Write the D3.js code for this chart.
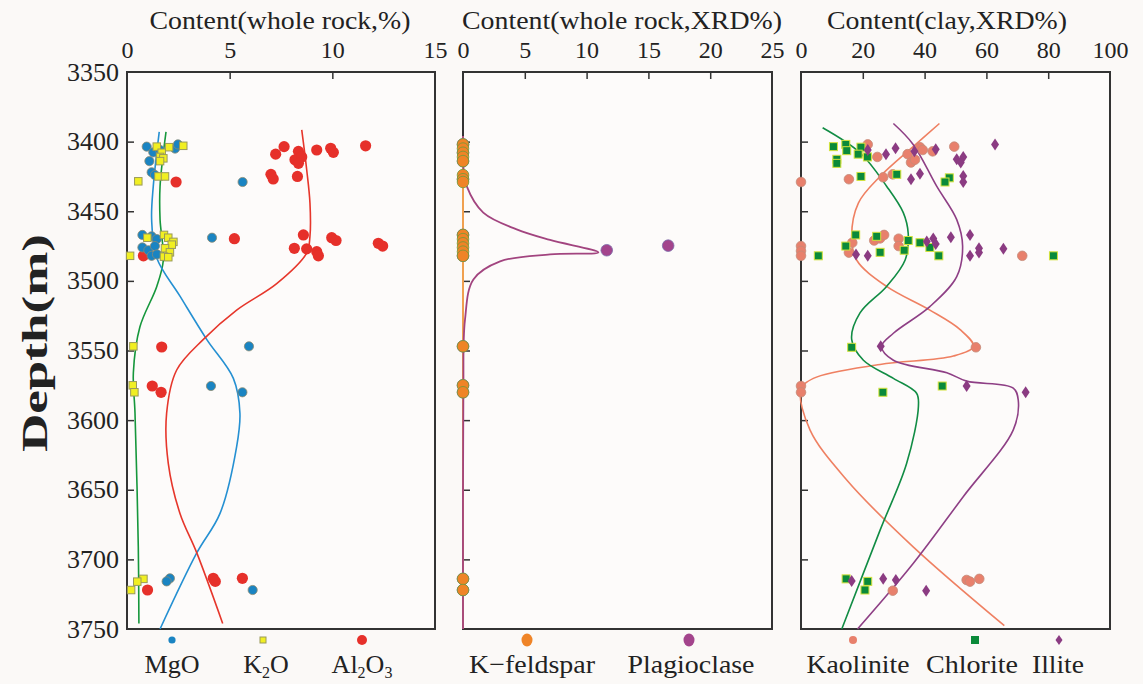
<!DOCTYPE html>
<html>
<meta charset="utf-8">
<title>Depth profiles</title>
<style>
  body { margin: 0; background: #fbf9f7; }
  svg { display: block; }
  text { font-family: "Liberation Serif", "Times New Roman", serif; fill: #222; }
  .box { fill: #fdfbfa; stroke: #333; stroke-width: 2; }
  .axis path { display: none; }
  .axis line { stroke: #333; stroke-width: 1.5; }
  .axis text { font-size: 24px; fill: #222; }
</style>
<body>
<script src="https://d3js.org/d3.v7.min.js"></script>
<script>
// ---- data: [depth (m), value] ----
var depthTicks = [3350, 3400, 3450, 3500, 3550, 3600, 3650, 3700, 3750];
var ticks1 = [0, 5, 10, 15];
var ticks2 = [0, 5, 10, 15, 20, 25];
var ticks3 = [0, 20, 40, 60, 80, 100];

var mgo = [[3403.6,0.96],[3407.7,1.28],[3406,1.61],[3405,2.34],[3402,2.48],[3414,1.09],[3422,1.2],[3424,1.36],
  [3429,5.63],[3467,0.75],[3468,1.2],[3470,1.45],[3469,4.14],[3476,0.75],[3478,1.04],[3475,1.36],[3482,1.2],
  [3481,1.46],[3547,5.94],[3575.5,4.09],[3580,5.62],[3713.6,2.09],[3715.8,1.93],[3722,6.12]];
var k2o = [[3403.6,1.45],[3404,2.05],[3403,2.74],[3408,1.69],[3411,1.61],[3412,1.77],[3414,1.61],[3425,1.53],
  [3425,1.85],[3428.5,0.55],[3467,1.8],[3469,2.01],[3469,0.99],[3472,2.26],[3474,2.18],[3476.6,1.85],
  [3479.5,2.09],[3482.6,1.8],[3483,2.01],[3482,0.15],[3547,0.31],[3575,0.28],[3580,0.36],[3714,0.8],
  [3716,0.5],[3722,0.2]];
var al2o3 = [[3403.6,7.65],[3409,7.24],[3407,8.35],[3413,8.18],[3411,8.51],[3415.6,8.35],[3406,9.24],
  [3404.8,9.92],[3407.7,10.05],[3403,11.62],[3423.5,7.01],[3426.8,7.12],[3425,8.3],[3429,2.39],[3469.7,5.23],
  [3467,8.59],[3469,9.97],[3471,10.18],[3476.6,8.15],[3477,8.75],[3479,9.24],[3482,9.32],[3473,12.24],
  [3475,12.45],[3482,0.8],[3547.5,1.69],[3575.5,1.23],[3580,1.66],[3713.6,4.2],[3715.8,4.3],[3713.6,5.62],
  [3722,1.0]];

var mgoCurve = [[3393,1.57],[3432,1.28],[3456,1.2],[3483.6,1.45],[3511,2.58],[3542,3.88],[3570,5.18],
  [3595,5.5],[3619,5.34],[3667,4.53],[3695.6,3.39],[3750,1.61]];
var k2oCurve = [[3393,1.9],[3432,1.61],[3456,1.61],[3485,1.77],[3504,1.45],[3533,0.63],[3566,0.31],
  [3595,0.39],[3691,0.55],[3746,0.58]];
var al2o3Curve = [[3391.6,8.51],[3420,8.75],[3444,8.91],[3468,8.91],[3480,8.75],[3502,7.29],[3521,5.34],
  [3542,3.72],[3564,2.42],[3595,1.93],[3631,2.01],[3667,2.58],[3695,3.39],[3746,4.66]];

var kfeldspar = [[3402,0],[3405,0],[3408,0],[3411,0],[3414,0],[3424,0],[3427,0],[3429,0],[3467,0],[3470,0],
  [3473,0],[3476,0],[3479,0],[3482,0],[3547,0],[3575,0],[3580,0],[3714,0],[3722,0]];
var plagioclase = [[3402,0],[3408,0],[3414,0],[3427,0],[3467,0],[3482,0],[3478,11.63],[3474.7,16.6],
  [3547,0],[3575,0],[3580,0],[3714,0],[3722,0]];
var kfeldsparCurve = [[3396,0],[3750,0]];
var plagioclaseCurve = [[3396,0],[3420,0.05],[3432,0.3],[3451,1.64],[3463,4.34],[3470.6,7.04],[3479.5,10.95],
  [3481,7.04],[3486,3.0],[3499,0.84],[3528,0.16],[3580,0.03],[3750,0]];

var kaolinite = [[3402,21.6],[3411,24.7],[3409,34.5],[3415,35.6],[3413,36.9],[3404,38.5],[3406,39.4],
  [3407,42.6],[3403.6,49.6],[3429,0],[3427,15.5],[3425.6,26.6],[3423.5,29.7],[3472.6,16.6],[3471,23.7],
  [3469.5,25.6],[3467,26.9],[3469.7,31.6],[3475,31.6],[3479.7,15.5],[3475,0],[3478.5,0],[3482,0],
  [3482,71.6],[3547.7,56.6],[3575.5,0],[3580,0],[3714.8,53.6],[3716,54.7],[3714,57.7],[3722.5,29.7]];
var chlorite = [[3403.6,10.5],[3402,14.5],[3406.5,14.8],[3404,19.4],[3409,18.5],[3411,21.5],[3412.7,11.6],
  [3415.6,11.6],[3425,19.4],[3423.5,31.0],[3426,48],[3429,46.6],[3467,17.7],[3475,14.5],[3468,24.5],
  [3471,34.7],[3472.6,38.5],[3476,41.7],[3478,33.4],[3479.5,25.6],[3482,44.6],[3482,5.6],[3482,81.7],
  [3547.7,16.4],[3575.5,45.7],[3580,26.5],[3714,14.6],[3715.8,21.6],[3722,20.7]];
var illite = [[3404.8,30.6],[3409,27.5],[3406,21.6],[3407,36.7],[3405.5,43.6],[3402,62.8],[3412.7,50.4],
  [3411,52.5],[3415,51.7],[3427,35.6],[3423,38.5],[3424.7,52.5],[3429,52.5],[3468.7,48.5],[3467,54.7],
  [3469.5,42.8],[3471.8,40.7],[3473.5,43.6],[3476.6,57.6],[3479.7,57.6],[3477,65.5],[3482,54.7],[3482,21.6],
  [3481,17.8],[3547,25.8],[3575.5,53.6],[3580,72.7],[3715.5,16.4],[3714,26.6],[3714.8,30.7],[3722.5,40.5]];

var kaoliniteCurve = [[3387,44.8],[3403.6,36.3],[3425,25.6],[3444,18.6],[3468,16.4],[3485,18],[3504,27.7],
  [3521,41.7],[3535,51.5],[3547,55.8],[3554,49.3],[3560,25.6],[3570,4],[3578,0],[3607,2.9],[3643,14.8],
  [3691,36.3],[3747.6,65.8]];
var chloriteCurve = [[3390,7],[3408,19.1],[3432,27.7],[3451,33.1],[3466,34.7],[3485,33.7],[3504,27.7],
  [3523,19.1],[3542,16.4],[3557,20.2],[3570,29.9],[3580.7,37.4],[3590,38],[3631,34.2],[3679,25.6],
  [3750,13.2]];
var illiteCurve = [[3387,29.9],[3402,36.3],[3432,43.9],[3456,50.4],[3475,52.3],[3497,50.4],[3518.5,41.7],
  [3537.6,29.9],[3547,26.1],[3557,29.9],[3566,47.2],[3572,53.6],[3577,68.7],[3585.5,70.3],[3607,68.7],
  [3655,52.5],[3703,36.3],[3750,18.3]];

// ---- layout ----
var W = 1143, H = 684;
var svg = d3.select("body").append("svg").attr("width", W).attr("height", H);

var y = d3.scaleLinear().domain([3350, 3750]).range([72, 629]);
var x1 = d3.scaleLinear().domain([0, 15]).range([127, 435]);
var x2 = d3.scaleLinear().domain([0, 25]).range([463, 772]);
var x3 = d3.scaleLinear().domain([0, 100]).range([801, 1110]);

function panel(x, ticks, title, tx, tw) {
  svg.append("rect").attr("class", "box")
    .attr("x", x.range()[0]).attr("y", y.range()[0])
    .attr("width", x.range()[1] - x.range()[0]).attr("height", y.range()[1] - y.range()[0]);

  svg.append("g").attr("class", "axis")
    .attr("transform", "translate(0," + y.range()[0] + ")")
    .call(d3.axisTop(x).tickValues(ticks).tickSize(-7).tickPadding(14).tickFormat(d3.format("d")))
    .selectAll("line").filter(function(d) { return d === ticks[0] || d === ticks[ticks.length - 1]; }).remove();

  svg.append("g").attr("class", "axis")
    .attr("transform", "translate(" + x.range()[0] + ",0)")
    .call(d3.axisLeft(y).tickValues(depthTicks.slice(1, -1)).tickSize(-7).tickFormat(""));

  svg.append("text").attr("x", tx).attr("y", 29)
    .attr("text-anchor", "middle").style("font-size", "25px")
    .attr("textLength", tw).attr("lengthAdjust", "spacingAndGlyphs").text(title);
}

panel(x1, ticks1, "Content(whole rock,%)", 280, 261);
panel(x2, ticks2, "Content(whole rock,XRD%)", 622, 320);
panel(x3, ticks3, "Content(clay,XRD%)", 947, 240);

// depth labels
svg.append("g").selectAll("text").data(depthTicks).enter().append("text")
  .attr("x", 119).attr("y", function(d) { return y(d); }).attr("dy", "0.33em")
  .attr("text-anchor", "end").style("font-size", "26px").text(function(d) { return d; });

svg.append("text").attr("transform", "translate(47,343) rotate(-90)")
  .attr("text-anchor", "middle").style("font-size", "36px").style("font-weight", "bold")
  .attr("textLength", 218).attr("lengthAdjust", "spacingAndGlyphs").text("Depth(m)");

// ---- marks ----
function curve(x, data, color, w) {
  svg.append("path").datum(data)
    .attr("fill", "none").attr("stroke", color).attr("stroke-width", w || 1.6)
    .attr("d", d3.line().x(function(d) { return x(d[1]); }).y(function(d) { return y(d[0]); })
      .curve(d3.curveCatmullRom.alpha(0.5)));
}

function circles(x, data, r, fill, stroke) {
  svg.append("g").selectAll("circle").data(data).enter().append("circle")
    .attr("cx", function(d) { return x(d[1]); }).attr("cy", function(d) { return y(d[0]); })
    .attr("r", r).attr("fill", fill).attr("stroke", stroke || "none").attr("stroke-width", 0.8);
}

function squares(x, data, s, fill, stroke) {
  svg.append("g").selectAll("rect").data(data).enter().append("rect")
    .attr("x", function(d) { return x(d[1]) - s / 2; }).attr("y", function(d) { return y(d[0]) - s / 2; })
    .attr("width", s).attr("height", s).attr("fill", fill).attr("stroke", stroke).attr("stroke-width", 1);
}

function diamonds(x, data, w, h, fill) {
  svg.append("g").selectAll("path").data(data).enter().append("path")
    .attr("transform", function(d) { return "translate(" + x(d[1]) + "," + y(d[0]) + ")"; })
    .attr("d", "M0," + (-h / 2) + "L" + (w / 2) + ",0L0," + (h / 2) + "L" + (-w / 2) + ",0Z")
    .attr("fill", fill);
}

// panel 1
curve(x1, k2oCurve, "#16973c");
curve(x1, mgoCurve, "#2590d2");
curve(x1, al2o3Curve, "#e6362b");
circles(x1, al2o3, 5.6, "#e6302a");
circles(x1, mgo, 4.6, "#1a84c2", "#8a8a72");
squares(x1, k2o, 7.5, "#f1ef22", "#9a9a5a");

// panel 2
curve(x2, kfeldsparCurve, "#f0a050", 2);
curve(x2, plagioclaseCurve, "#a2447f", 1.8);
circles(x2, plagioclase, 5.8, "#a3448c", "#7a6aa8");
circles(x2, kfeldspar, 5.8, "#ef8427", "#6e9a3a");

// panel 3
curve(x3, kaoliniteCurve, "#ef8062");
curve(x3, chloriteCurve, "#118c44");
curve(x3, illiteCurve, "#8e3f85");
circles(x3, kaolinite, 4.8, "#e8806c", "#c48a78");
squares(x3, chlorite, 8, "#0a8a3a", "#d4e23c");
diamonds(x3, illite, 8, 12, "#8b3b82");

// ---- legend ----
var legY = 640, labY = 673;
function label(xc, parts, len) {
  var t = svg.append("text").attr("x", xc).attr("y", labY).attr("text-anchor", "middle").style("font-size", "26px");
  if (len) t.attr("textLength", len).attr("lengthAdjust", "spacingAndGlyphs");
  parts.forEach(function(p) {
    var s = t.append("tspan").text(p[0]);
    if (p[1]) s.attr("baseline-shift", "-30%").style("font-size", "16px");
  });
}

svg.append("circle").attr("cx", 172).attr("cy", legY).attr("r", 3.6).attr("fill", "#1a84c2");
svg.append("rect").attr("x", 260).attr("y", legY - 3).attr("width", 6).attr("height", 6).attr("fill", "#f1ef22").attr("stroke", "#9a9a5a");
svg.append("circle").attr("cx", 362).attr("cy", legY).attr("r", 5).attr("fill", "#e6302a");
label(172, [["MgO"]], 55);
label(266, [["K"], ["2", 1], ["O"]]);
label(362, [["Al"], ["2", 1], ["O"], ["3", 1]]);

svg.append("ellipse").attr("cx", 527).attr("cy", legY).attr("rx", 5.5).attr("ry", 6.5).attr("fill", "#ef8427");
svg.append("ellipse").attr("cx", 689).attr("cy", legY).attr("rx", 5.5).attr("ry", 6.5).attr("fill", "#a3448c");
label(532, [["K\u2212feldspar"]], 126);
label(691, [["Plagioclase"]], 127);

svg.append("circle").attr("cx", 853).attr("cy", legY).attr("r", 4).attr("fill", "#e8806c");
svg.append("rect").attr("x", 971).attr("y", legY - 4).attr("width", 8).attr("height", 8).attr("fill", "#0a8a3a");
svg.append("path").attr("transform", "translate(1059," + legY + ")").attr("d", "M0,-5L3.5,0L0,5L-3.5,0Z").attr("fill", "#8b3b82");
label(858, [["Kaolinite"]], 103);
label(972, [["Chlorite"]], 92);
label(1058, [["Illite"]], 52);
</script>
</body>
</html>
